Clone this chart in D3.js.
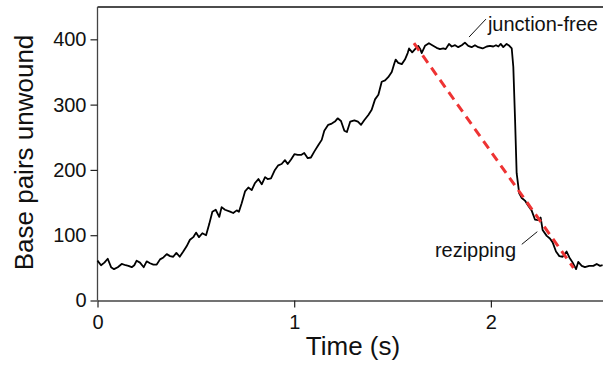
<!DOCTYPE html>
<html>
<head>
<meta charset="utf-8">
<script src="https://cdn.jsdelivr.net/npm/d3@7.9.0/dist/d3.min.js"></script>
<style>
  body { margin: 0; background: #fff; }
  svg text { font-family: "Liberation Sans", Arial, sans-serif; fill: #111; }
</style>
</head>
<body>
<svg id="chart" width="603" height="365"></svg>
<script>
// trace: time (s) and base pairs unwound
const times = [0.00,0.018,0.035,0.052,0.069,0.084,0.103,0.123,0.143,0.157,0.174,0.187,0.199,0.216,0.235,0.250,0.267,0.284,0.301,0.318,
  0.335,0.352,0.369,0.385,0.401,0.418,0.436,0.453,0.470,0.487,0.501,0.516,0.533,0.552,0.568,0.584,0.601,0.619,0.631,0.648,
  0.674,0.690,0.708,0.719,0.733,0.750,0.767,0.784,0.801,0.818,0.835,0.852,0.865,0.882,0.902,0.919,0.936,0.953,0.967,0.984,
  1.001,1.018,1.035,1.051,1.069,1.085,1.102,1.123,1.140,1.153,1.173,1.191,1.207,1.221,1.238,1.255,1.268,1.285,1.306,1.324,
  1.340,1.356,1.377,1.394,1.411,1.428,1.445,1.462,1.478,1.496,1.509,1.516,1.529,1.547,1.563,1.577,1.584,1.600,1.618,1.631,
  1.641,1.648,1.665,1.685,1.702,1.724,1.741,1.758,1.770,1.787,1.801,1.818,1.834,1.852,1.868,1.885,1.902,1.919,1.936,1.958,
  1.979,1.995,2.012,2.026,2.038,2.050,2.063,2.080,2.094,2.106,2.114,2.123,2.131,2.144,2.157,2.173,2.190,2.207,2.224,2.241,
  2.253,2.263,2.284,2.300,2.314,2.331,2.348,2.365,2.385,2.399,2.416,2.433,2.444,2.462,2.478,2.500,2.521,2.538,2.555,2.568];
const basePairs = [61,54,58,64,51,48,51,56,54,53,51,54,61,58,51,60,57,55,55,63,
  66,71,68,67,73,67,75,83,93,97,104,97,103,100,117,136,139,128,143,139,
  136,134,138,136,149,167,173,169,180,186,178,189,186,187,200,207,209,215,209,216,
  224,223,223,226,218,219,228,238,246,260,269,271,274,279,275,260,258,274,276,274,
  269,276,284,292,308,315,335,337,342,350,363,369,364,362,369,379,386,380,386,390,
  385,379,390,394,391,387,385,386,385,393,389,391,388,391,395,390,388,391,388,386,
  389,390,389,391,389,393,388,393,390,386,358,276,195,164,157,153,145,138,124,123,
  127,108,99,95,89,75,68,67,75,66,58,48,59,53,51,53,53,56,53,54];

// rezipping fit (red dashed)
const fitTimes = [1.609, 2.42];
const fitValues = [394, 50];

const xTicks = [0, 1, 2];
const yTicks = [0, 100, 200, 300, 400];

const svg = d3.select('#chart');
const m = { left: 97.5, right: 603, top: 7, bottom: 300.5 };

const x = d3.scaleLinear().domain([0, 2.57]).range([m.left, m.right]);
const y = d3.scaleLinear().domain([0, 449.5]).range([m.bottom, m.top]);

// frame line on top
svg.append('line')
  .attr('x1', m.left).attr('x2', m.right)
  .attr('y1', m.top).attr('y2', m.top)
  .attr('stroke', '#111').attr('stroke-width', 1.3);

const yAxis = svg.append('g')
  .attr('transform', `translate(${m.left},0)`)
  .call(d3.axisLeft(y).tickValues(yTicks).tickSize(7).tickSizeOuter(0).tickPadding(4));
const xAxis = svg.append('g')
  .attr('transform', `translate(0,${m.bottom})`)
  .call(d3.axisBottom(x).tickValues(xTicks).tickFormat(d3.format('d')).tickSize(7).tickSizeOuter(0).tickPadding(7));

[yAxis, xAxis].forEach((g) => {
  g.select('.domain').attr('stroke', '#444').attr('stroke-width', 1.3);
  g.selectAll('.tick line').attr('stroke', '#222').attr('stroke-width', 1.2);
  g.selectAll('.tick text').attr('font-size', 20).attr('font-family', '"Liberation Sans", Arial, sans-serif').attr('fill', '#111');
});
// left axis must reach the top line
yAxis.select('.domain').attr('d', `M0,${m.bottom}V${m.top}`);

const trace = times.map((t, i) => [t, basePairs[i]]);
const line = d3.line().x((d) => x(d[0])).y((d) => y(d[1]));

svg.append('path')
  .attr('d', line(trace))
  .attr('fill', 'none')
  .attr('stroke', '#000')
  .attr('stroke-width', 1.8)
  .attr('stroke-linejoin', 'round');

svg.append('path')
  .attr('d', line(fitTimes.map((t, i) => [t, fitValues[i]])))
  .attr('fill', 'none')
  .attr('stroke', '#ee3333')
  .attr('stroke-width', 3)
  .attr('stroke-dasharray', '9,6');

// annotations
svg.append('line')
  .attr('x1', x(1.889)).attr('y1', y(403.5))
  .attr('x2', x(1.975)).attr('y2', y(431))
  .attr('stroke', '#111').attr('stroke-width', 1);
svg.append('text')
  .attr('x', x(1.985)).attr('y', y(412.7))
  .attr('font-size', 20)
  .text('junction-free');

svg.append('line')
  .attr('x1', x(2.157)).attr('y1', y(86))
  .attr('x2', x(2.236)).attr('y2', y(105.4))
  .attr('stroke', '#111').attr('stroke-width', 1);
svg.append('text')
  .attr('x', x(2.128)).attr('y', y(66.6))
  .attr('text-anchor', 'end')
  .attr('font-size', 20)
  .text('rezipping');

// axis titles
svg.append('text')
  .attr('x', 353).attr('y', 355)
  .attr('text-anchor', 'middle')
  .attr('font-size', 26)
  .text('Time (s)');

svg.append('text')
  .attr('transform', 'translate(33,152.5) rotate(-90)')
  .attr('text-anchor', 'middle')
  .attr('font-size', 26)
  .text('Base pairs unwound');
</script>
</body>
</html>
